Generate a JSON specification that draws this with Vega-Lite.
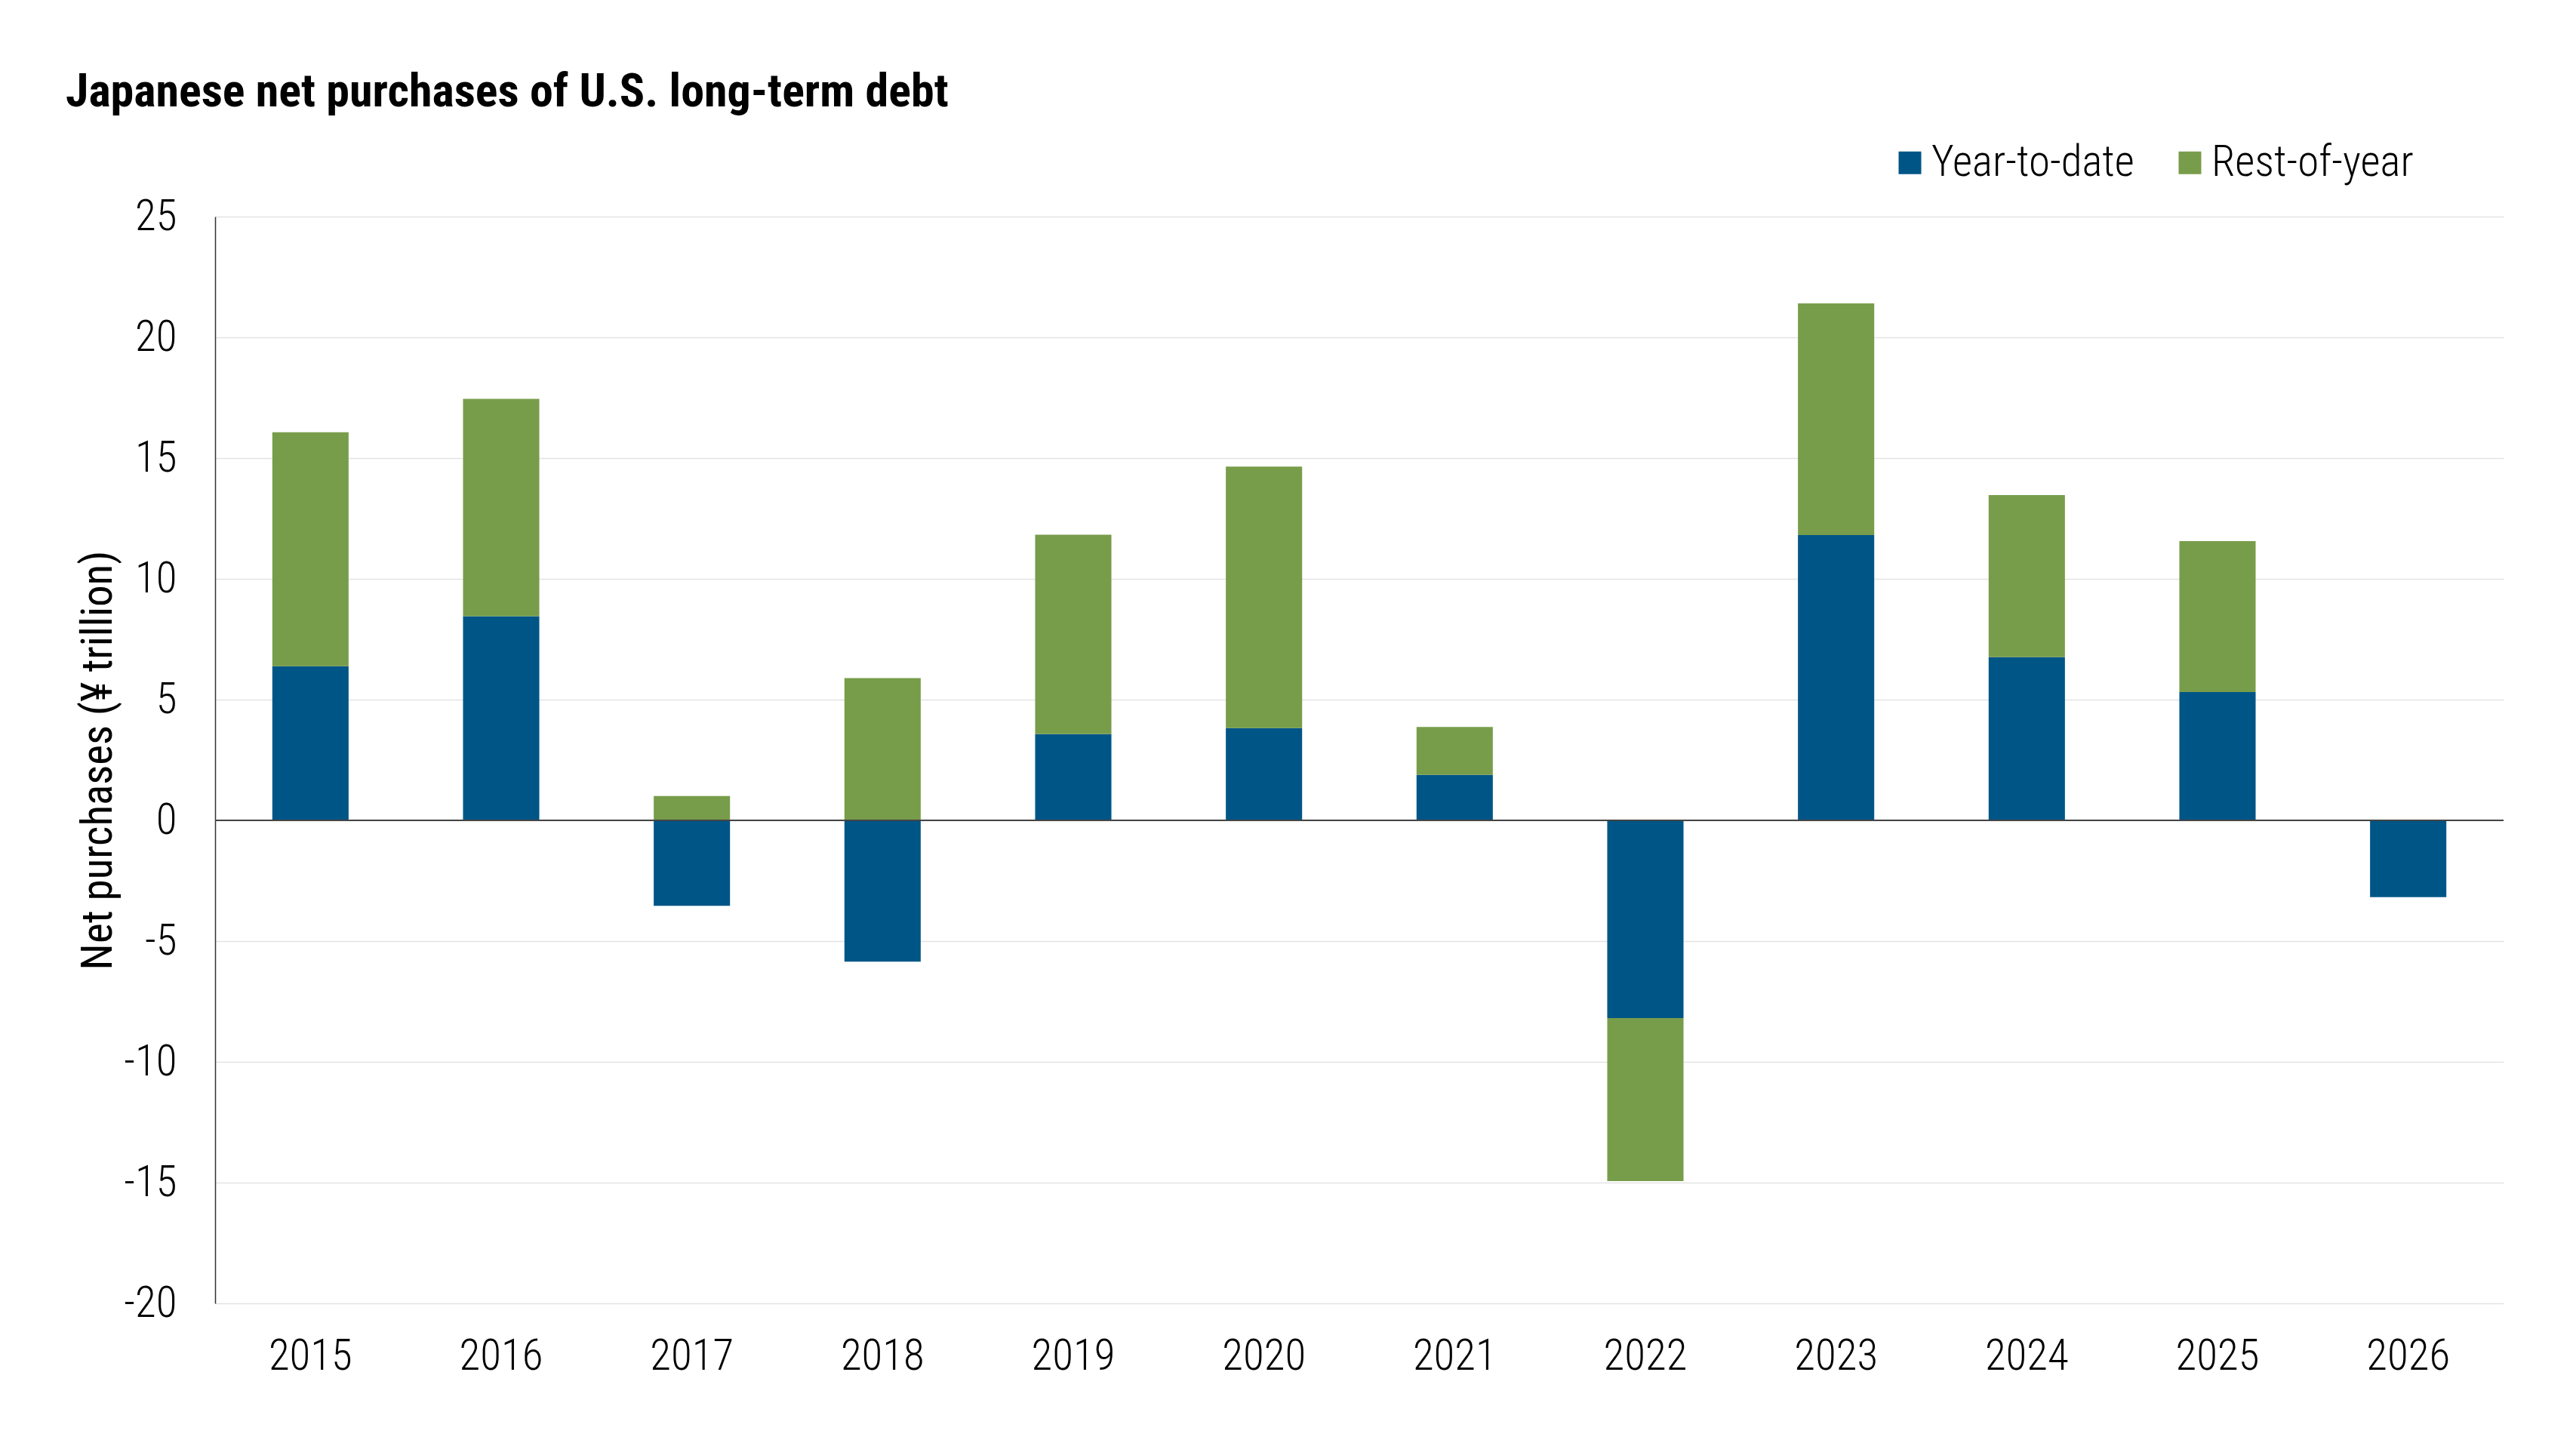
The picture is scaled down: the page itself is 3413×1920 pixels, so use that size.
{
  "$schema": "https://vega.github.io/schema/vega-lite/v6.json",
  "width": 3032,
  "height": 1440,
  "autosize": {"type": "none"},
  "padding": {"left": 285, "top": 287, "right": 96, "bottom": 193},
  "background": "white",
  "title": {
    "text": "Japanese net purchases of U.S. long-term debt",
    "anchor": "start",
    "frame": "group",
    "orient": "top",
    "dx": -198,
    "dy": 36,
    "offset": 20,
    "baseline": "alphabetic",
    "fontSize": 62,
    "fontWeight": "bold",
    "font": "Roboto Condensed, Liberation Sans Narrow, DejaVu Sans Condensed, Roboto",
    "color": "#000000"
  },
  "data": {
    "values": [
      {"year": "2015", "series": "Year-to-date", "value": 6.38},
      {"year": "2015", "series": "Rest-of-year", "value": 9.69},
      {"year": "2016", "series": "Year-to-date", "value": 8.45},
      {"year": "2016", "series": "Rest-of-year", "value": 9.0},
      {"year": "2017", "series": "Year-to-date", "value": -3.54},
      {"year": "2017", "series": "Rest-of-year", "value": 1.01},
      {"year": "2018", "series": "Year-to-date", "value": -5.85},
      {"year": "2018", "series": "Rest-of-year", "value": 5.89},
      {"year": "2019", "series": "Year-to-date", "value": 3.57},
      {"year": "2019", "series": "Rest-of-year", "value": 8.26},
      {"year": "2020", "series": "Year-to-date", "value": 3.82},
      {"year": "2020", "series": "Rest-of-year", "value": 10.83},
      {"year": "2021", "series": "Year-to-date", "value": 1.88},
      {"year": "2021", "series": "Rest-of-year", "value": 1.99},
      {"year": "2022", "series": "Year-to-date", "value": -8.19},
      {"year": "2022", "series": "Rest-of-year", "value": -6.75},
      {"year": "2023", "series": "Year-to-date", "value": 11.81},
      {"year": "2023", "series": "Rest-of-year", "value": 9.6},
      {"year": "2024", "series": "Year-to-date", "value": 6.76},
      {"year": "2024", "series": "Rest-of-year", "value": 6.71},
      {"year": "2025", "series": "Year-to-date", "value": 5.31},
      {"year": "2025", "series": "Rest-of-year", "value": 6.25},
      {"year": "2026", "series": "Year-to-date", "value": -3.18}
    ]
  },
  "layer": [
    {
      "mark": {"type": "bar"},
      "encoding": {
        "x": {
          "field": "year",
          "type": "ordinal",
          "title": null,
          "scale": {"paddingInner": 0.6, "paddingOuter": 0.3},
          "axis": {
            "labelAngle": 0,
            "ticks": false,
            "tickSize": 0,
            "domain": false,
            "labelPadding": 42,
            "labelFontSize": 57
          }
        },
        "y": {
          "field": "value",
          "type": "quantitative",
          "stack": "zero",
          "title": "Net purchases (¥ trillion)",
          "scale": {"domain": [-20, 25], "nice": false, "zero": false},
          "axis": {
            "values": [-20, -15, -10, -5, 0, 5, 10, 15, 20, 25],
            "labelExpr": "replace(datum.label, '−', '-')",
            "ticks": false,
            "tickSize": 0,
            "labelPadding": 51,
            "labelFontSize": 57,
            "domain": true,
            "domainColor": "#333333",
            "domainWidth": 1.5,
            "grid": true,
            "gridColor": "#e3e3e3",
            "gridWidth": 1.5,
            "titleFontSize": 57,
            "titleFontWeight": "normal",
            "titleAngle": 270,
            "titleBaseline": "alphabetic",
            "titleX": -138,
            "titleY": 720
          }
        },
        "color": {
          "field": "series",
          "type": "nominal",
          "sort": ["Year-to-date", "Rest-of-year"],
          "scale": {
            "domain": ["Year-to-date", "Rest-of-year"],
            "range": ["#005587", "#789d4a"]
          },
          "legend": {
            "title": null,
            "orient": "none",
            "direction": "horizontal",
            "legendX": 2217,
            "legendY": -100,
            "symbolType": "square",
            "symbolSize": 900,
            "symbolStrokeWidth": 0,
            "labelFontSize": 57,
            "labelOffset": 0,
            "columnPadding": 45,
            "labelLimit": 0
          }
        }
      }
    },
    {
      "mark": {"type": "rule", "color": "#444444", "strokeWidth": 2},
      "encoding": {"y": {"datum": 0}}
    }
  ],
  "config": {
    "view": {"stroke": null},
    "font": "Roboto Condensed, Liberation Sans Narrow, DejaVu Sans Condensed, Roboto",
    "axis": {
      "labelColor": "#000000",
      "titleColor": "#000000",
      "labelFontWeight": 300
    },
    "legend": {"labelColor": "#000000", "labelFontWeight": 300}
  }
}
